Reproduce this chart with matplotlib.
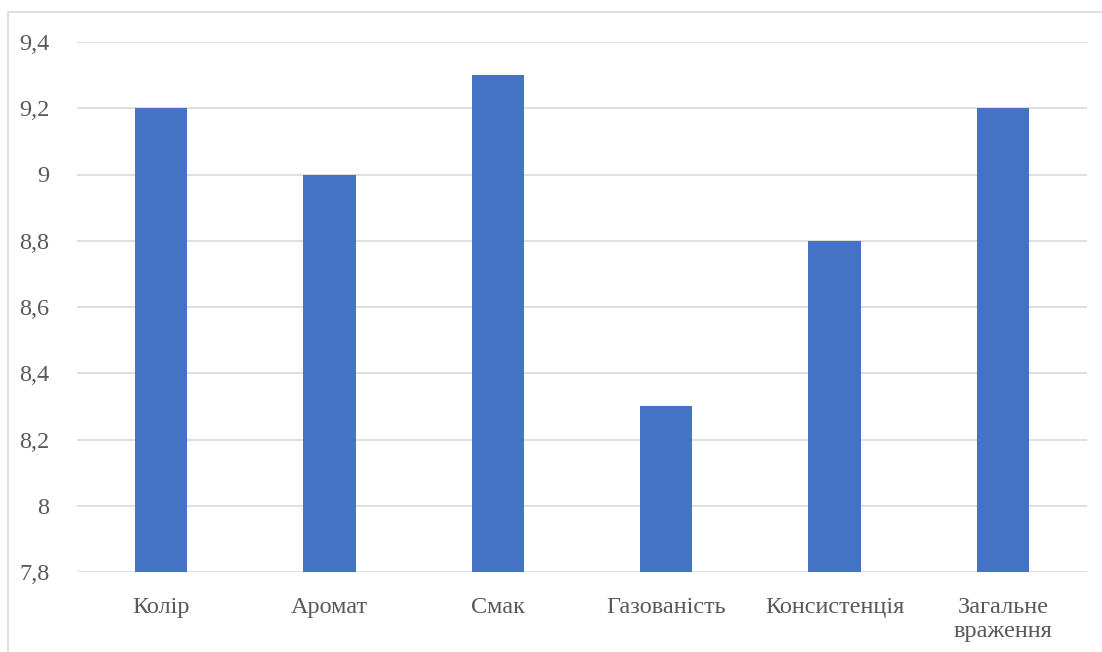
import matplotlib
matplotlib.use("Agg")
import matplotlib.pyplot as plt
from matplotlib.patches import Rectangle

categories = ["Колір", "Аромат", "Смак", "Газованість", "Консистенція", "Загальне\nвраження"]
values = [9.2, 9.0, 9.3, 8.3, 8.8, 9.2]
y_ticks = [7.8, 8.0, 8.2, 8.4, 8.6, 8.8, 9.0, 9.2, 9.4]
y_tick_labels = ["7,8", "8", "8,2", "8,4", "8,6", "8,8", "9", "9,2", "9,4"]

LABEL_FAMILY = ["Liberation Serif", "DejaVu Serif"]
LABEL_SIZE = 17.5

W, H = 1102, 652
fig = plt.figure(figsize=(W / 100, H / 100), dpi=100)
fig.patch.set_facecolor("white")

# outer chart frame (left and top edges visible)
fig.add_artist(Rectangle((8 / W, -0.05), 1.1, 1 - 12 / H + 0.05,
                         transform=fig.transFigure, fill=False,
                         edgecolor="#d9d9d9", linewidth=1.2))

left, right = 77 / W, 1087 / W
top, bottom = 1 - 42 / H, 1 - 572 / H
ax = fig.add_axes([left, bottom, right - left, top - bottom])

x = range(len(categories))
ax.bar(x, values, width=0.31, color="#4472C4", zorder=3)

ax.set_ylim(7.8, 9.4)
ax.set_xlim(-0.5, len(categories) - 0.5)
ax.set_yticks(y_ticks)
ax.set_yticklabels(y_tick_labels, family=LABEL_FAMILY, fontsize=LABEL_SIZE)
ax.set_xticks(list(x))
ax.set_xticklabels(categories, family=LABEL_FAMILY, fontsize=LABEL_SIZE, linespacing=1.2)

ax.grid(axis="y", color="#d9d9d9", linewidth=1.2, zorder=0)
for s in ax.spines.values():
    s.set_visible(False)
ax.tick_params(axis="both", length=0, colors="#595959")
ax.tick_params(axis="y", pad=20)
ax.tick_params(axis="x", pad=18)

fig.savefig("out.png", dpi=100, facecolor="white")
